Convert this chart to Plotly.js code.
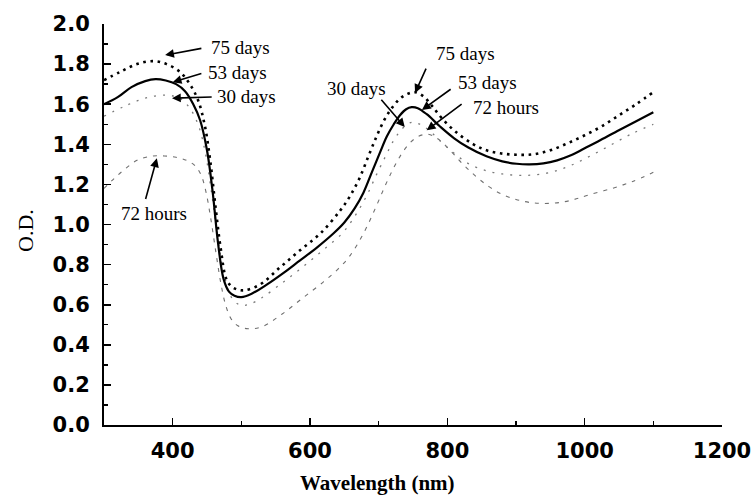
<!DOCTYPE html>
<html>
<head>
<meta charset="utf-8">
<script src="https://cdn.plot.ly/plotly-3.0.1.min.js"></script>
<style>
  html, body { margin: 0; padding: 0; background: #fff; }
  #chart { width: 754px; height: 498px; }
</style>
</head>
<body>
<div id="chart"></div>
<script>
// Absorption spectra (O.D. vs wavelength) recorded at four ageing times.

// 53 days – solid line
const wl53 = [300, 320, 340, 360, 375, 390, 405, 418, 430, 440, 450, 458, 466, 474, 482, 490, 500, 515, 537, 560, 585, 610, 634, 650, 665, 678, 690, 702, 712, 722, 731, 740, 748, 757, 770, 789, 810, 830, 857, 880, 901, 920, 940, 960, 980, 1000, 1020, 1047, 1075, 1100];
const od53 = [1.60, 1.635, 1.685, 1.715, 1.725, 1.718, 1.70, 1.665, 1.60, 1.52, 1.37, 1.17, 0.91, 0.73, 0.665, 0.645, 0.638, 0.655, 0.70, 0.755, 0.82, 0.885, 0.955, 1.01, 1.08, 1.16, 1.26, 1.36, 1.44, 1.50, 1.545, 1.575, 1.585, 1.58, 1.55, 1.49, 1.43, 1.385, 1.34, 1.315, 1.303, 1.30, 1.305, 1.32, 1.345, 1.38, 1.415, 1.465, 1.515, 1.56];

// 75 days – dotted line
const wl75 = [300, 323, 348, 372, 391, 411, 425, 437, 447, 455, 462, 470, 478, 486, 495, 505, 527, 556, 585, 615, 644, 658, 672, 685, 697, 708, 718, 730, 741, 753, 765, 778, 792, 813, 838, 857, 877, 900, 925, 950, 975, 1000, 1025, 1050, 1075, 1100];
const od75 = [1.72, 1.76, 1.80, 1.815, 1.80, 1.76, 1.70, 1.62, 1.49, 1.31, 1.10, 0.88, 0.73, 0.69, 0.675, 0.672, 0.70, 0.785, 0.87, 0.955, 1.07, 1.14, 1.23, 1.34, 1.44, 1.52, 1.575, 1.625, 1.65, 1.66, 1.64, 1.59, 1.53, 1.46, 1.40, 1.37, 1.355, 1.348, 1.35, 1.37, 1.405, 1.445, 1.49, 1.545, 1.60, 1.66];

// 30 days – faint dotted line
const wl30 = [300, 330, 360, 390, 410, 425, 438, 448, 457, 466, 475, 485, 497, 510, 530, 560, 590, 620, 648, 665, 682, 697, 710, 722, 735, 748, 760, 775, 790, 810, 830, 855, 880, 915, 950, 980, 1010, 1040, 1070, 1100];
const od30 = [1.54, 1.59, 1.63, 1.645, 1.63, 1.58, 1.49, 1.35, 1.15, 0.93, 0.75, 0.64, 0.60, 0.60, 0.635, 0.71, 0.79, 0.875, 0.96, 1.04, 1.14, 1.25, 1.34, 1.42, 1.48, 1.51, 1.50, 1.465, 1.415, 1.355, 1.305, 1.27, 1.252, 1.245, 1.26, 1.295, 1.345, 1.40, 1.455, 1.50];

// 72 hours – faint dashed line
const wl72 = [300, 315, 330, 348, 368, 388, 405, 420, 432, 441, 448, 455, 463, 470, 477, 485, 495, 510, 530, 560, 590, 620, 640, 655, 668, 683, 697, 709, 720, 732, 745, 758, 772, 785, 800, 820, 840, 860, 880, 900, 920, 940, 964, 985, 1008, 1040, 1070, 1100];
const od72 = [1.18, 1.23, 1.275, 1.32, 1.34, 1.342, 1.335, 1.32, 1.295, 1.25, 1.17, 1.04, 0.86, 0.71, 0.60, 0.53, 0.495, 0.48, 0.49, 0.555, 0.635, 0.715, 0.775, 0.83, 0.895, 0.99, 1.095, 1.19, 1.27, 1.345, 1.405, 1.44, 1.45, 1.43, 1.385, 1.31, 1.245, 1.19, 1.15, 1.125, 1.11, 1.105, 1.11, 1.125, 1.15, 1.18, 1.215, 1.26];

// Curve labels: [text, label x, label y, arrow tail x, tail y, arrow head x, head y]
const labels = [
  ['75 days', 499, 1.885, 444, 1.88, 389, 1.845],
  ['53 days', 494, 1.76, 444, 1.755, 400, 1.71],
  ['30 days', 507, 1.636, 459, 1.636, 399, 1.63],
  ['72 hours', 373, 1.057, 360, 1.12, 377, 1.33],
  ['75 days', 827, 1.855, 770, 1.785, 753, 1.656],
  ['30 days', 668, 1.68, 702, 1.63, 738, 1.486],
  ['53 days', 858, 1.71, 807, 1.68, 763, 1.571],
  ['72 hours', 886, 1.586, 823, 1.606, 770, 1.47]
];

const xTickVals = [400, 600, 800, 1000, 1200];
const yTickVals = [0, 0.2, 0.4, 0.6, 0.8, 1.0, 1.2, 1.4, 1.6, 1.8, 2.0];

const traces = [
  { x: wl72, y: od72, mode: 'lines', line: { color: '#707070', width: 1.1, dash: '4px,6px', shape: 'spline', smoothing: 1 }, name: '72 hours' },
  { x: wl30, y: od30, mode: 'lines', line: { color: '#7a7a7a', width: 1.3, dash: '2px,7px', shape: 'spline', smoothing: 1 }, name: '30 days' },
  { x: wl75, y: od75, mode: 'lines', line: { color: '#000000', width: 2.6, dash: '2.6px,4.6px', shape: 'spline', smoothing: 1 }, name: '75 days' },
  { x: wl53, y: od53, mode: 'lines', line: { color: '#000000', width: 2.2, shape: 'spline', smoothing: 1 }, name: '53 days' }
];

const annotations = [];
labels.forEach(function (l) {
  annotations.push({
    x: l[5], y: l[6], ax: l[3], ay: l[4], xref: 'x', yref: 'y', axref: 'x', ayref: 'y',
    text: '', showarrow: true, arrowhead: 2, arrowsize: 1.1, arrowwidth: 1.6, arrowcolor: '#000', standoff: 0
  });
  annotations.push({
    x: l[1], y: l[2], xref: 'x', yref: 'y', text: l[0], showarrow: false,
    xanchor: 'center', yanchor: 'middle',
    font: { family: 'Liberation Serif, Times New Roman, serif', size: 19, color: '#000' }
  });
});

// Axis titles
annotations.push({
  xref: 'paper', yref: 'paper', x: 0.443, y: -0.145, text: 'Wavelength (nm)', showarrow: false,
  xanchor: 'center', yanchor: 'middle',
  font: { family: 'Liberation Serif, Times New Roman, serif', size: 21, color: '#000', weight: 'bold' }
});
annotations.push({
  xref: 'paper', yref: 'paper', x: -0.128, y: 0.486, text: 'O.D.', showarrow: false, textangle: -90,
  xanchor: 'center', yanchor: 'middle',
  font: { family: 'Liberation Serif, Times New Roman, serif', size: 22, color: '#000' }
});

const tickFont = { family: 'DejaVu Sans, sans-serif', size: 21, color: '#000', weight: 'bold' };

const layout = {
  width: 754, height: 498,
  margin: { l: 104, r: 32, t: 24, b: 73, pad: 0 },
  paper_bgcolor: '#ffffff', plot_bgcolor: '#ffffff',
  showlegend: false,
  xaxis: {
    range: [300, 1200], tickvals: xTickVals, ticktext: xTickVals.map(String),
    ticks: 'inside', ticklen: 7, tickwidth: 1.6, tickcolor: '#000',
    minor: { dtick: 100, tick0: 300, ticks: 'inside', ticklen: 4, tickwidth: 1.4, tickcolor: '#000', showgrid: false },
    showline: true, linecolor: '#000', linewidth: 2, mirror: false,
    showgrid: false, zeroline: false, tickfont: tickFont, ticklabelstandoff: 6
  },
  yaxis: {
    range: [0, 2.0], tickvals: yTickVals, ticktext: yTickVals.map(function (v) { return v.toFixed(1); }),
    ticks: 'inside', ticklen: 7, tickwidth: 1.6, tickcolor: '#000',
    minor: { dtick: 0.1, tick0: 0, ticks: 'inside', ticklen: 4, tickwidth: 1.4, tickcolor: '#000', showgrid: false },
    showline: true, linecolor: '#000', linewidth: 2, mirror: false,
    showgrid: false, zeroline: false, tickfont: tickFont, ticklabelstandoff: 8
  },
  annotations: annotations
};

Plotly.newPlot('chart', traces, layout, { staticPlot: true, displayModeBar: false });
</script>
</body>
</html>
